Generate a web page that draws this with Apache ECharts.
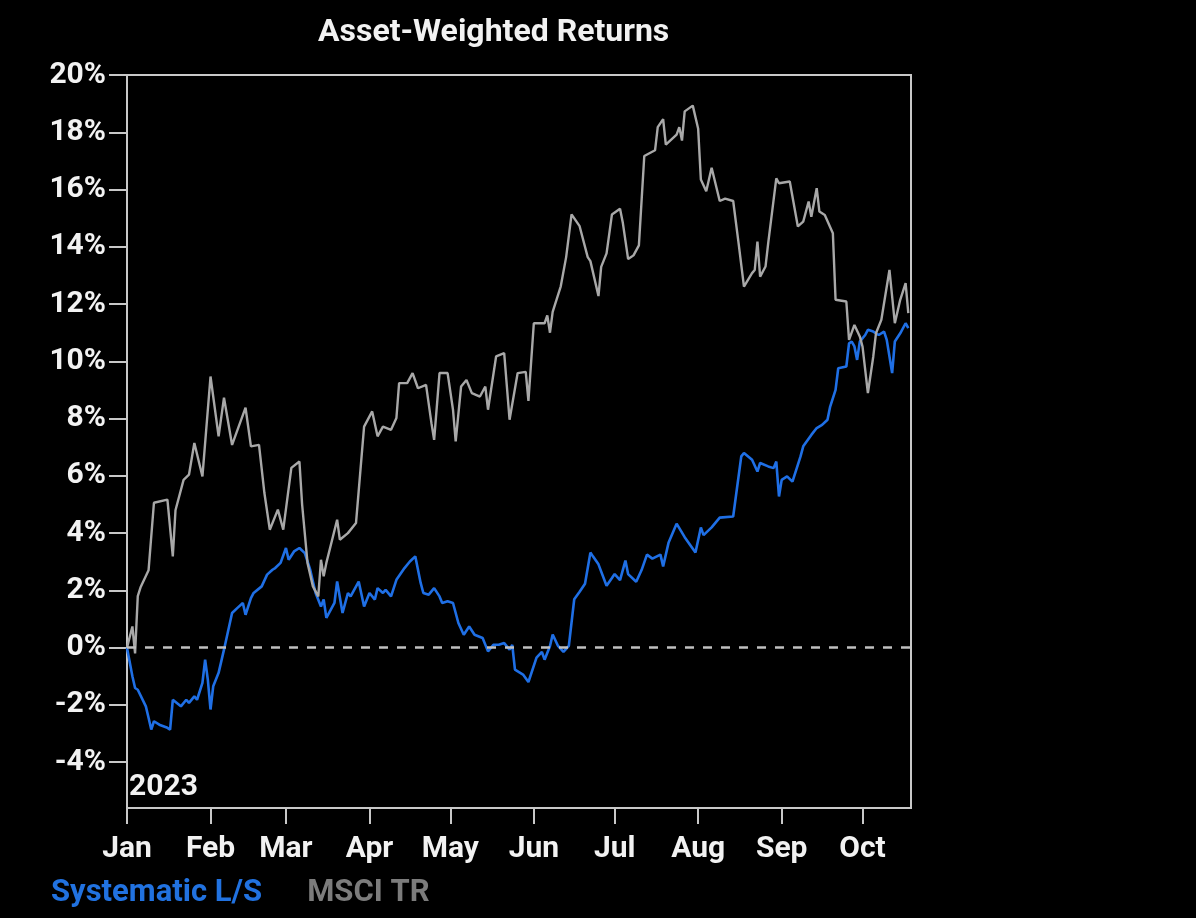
<!DOCTYPE html>
<html>
<head>
<meta charset="utf-8">
<script src="https://cdn.jsdelivr.net/npm/echarts@6/dist/echarts.min.js"></script>
<style>
  html, body { margin: 0; padding: 0; background: #000; }
  #chart { width: 1196px; height: 918px; }
</style>
</head>
<body>
<div id="chart"></div>
<script>
const titleText = 'Asset-Weighted Returns';
const yearLabel = '2023';
const seriesNames = ['Systematic L/S', 'MSCI TR'];
const monthLabels = ['Jan','Feb','Mar','Apr','May','Jun','Jul','Aug','Sep','Oct'];
const yTickValues = [-4,-2,0,2,4,6,8,10,12,14,16,18,20];

// Systematic L/S cumulative return (%)
const systematicLS = [
['2023-01-01',0],['2023-01-03',-1.0],['2023-01-04',-1.41],['2023-01-05',-1.47],['2023-01-08',-2.05],
['2023-01-09',-2.45],['2023-01-10',-2.86],['2023-01-11',-2.57],['2023-01-13',-2.69],['2023-01-16',-2.8],
['2023-01-17',-2.86],['2023-01-18',-1.82],['2023-01-21',-2.05],['2023-01-23',-1.82],['2023-01-24',-1.93],
['2023-01-26',-1.7],['2023-01-27',-1.82],['2023-01-29',-1.23],['2023-01-30',-0.42],['2023-01-31',-1.12],
['2023-02-01',-2.16],['2023-02-02',-1.35],['2023-02-04',-0.88],['2023-02-06',-0.07],['2023-02-09',1.21],
['2023-02-11',1.39],['2023-02-13',1.56],['2023-02-14',1.15],['2023-02-16',1.73],['2023-02-17',1.91],
['2023-02-20',2.14],['2023-02-22',2.55],['2023-02-24',2.72],['2023-02-25',2.78],['2023-02-27',2.96],
['2023-03-01',3.48],['2023-03-02',3.07],['2023-03-04',3.36],['2023-03-06',3.48],['2023-03-08',3.3],
['2023-03-10',2.72],['2023-03-12',1.91],['2023-03-14',1.44],['2023-03-15',1.68],['2023-03-16',1.04],
['2023-03-19',1.56],['2023-03-20',2.31],['2023-03-22',1.21],['2023-03-24',1.91],['2023-03-25',1.79],
['2023-03-28',2.31],['2023-03-30',1.44],['2023-04-01',1.91],['2023-04-03',1.68],['2023-04-04',2.08],
['2023-04-06',1.91],['2023-04-07',2.02],['2023-04-09',1.79],['2023-04-11',2.37],['2023-04-14',2.78],
['2023-04-16',3.01],['2023-04-18',3.19],['2023-04-20',2.26],['2023-04-21',1.91],['2023-04-23',1.85],
['2023-04-25',2.08],['2023-04-27',1.79],['2023-04-28',1.56],['2023-04-30',1.62],['2023-05-02',1.56],
['2023-05-04',0.86],['2023-05-06',0.45],['2023-05-08',0.74],['2023-05-10',0.45],['2023-05-13',0.34],
['2023-05-15',-0.13],['2023-05-17',0.1],['2023-05-19',0.1],['2023-05-21',0.16],['2023-05-23',-0.07],
['2023-05-24',0.1],['2023-05-25',-0.77],['2023-05-28',-0.94],['2023-05-30',-1.2],['2023-06-02',-0.35],
['2023-06-04',-0.15],['2023-06-05',-0.42],['2023-06-07',0.06],['2023-06-08',0.46],['2023-06-10',0.06],
['2023-06-12',-0.15],['2023-06-14',0.06],['2023-06-16',1.69],['2023-06-18',1.95],['2023-06-20',2.23],
['2023-06-21',2.77],['2023-06-22',3.32],['2023-06-23',3.18],['2023-06-25',2.91],['2023-06-28',2.16],
['2023-06-30',2.43],['2023-07-01',2.57],['2023-07-03',2.36],['2023-07-05',3.04],['2023-07-06',2.57],
['2023-07-09',2.3],['2023-07-11',2.71],['2023-07-13',3.25],['2023-07-15',3.11],['2023-07-18',3.25],
['2023-07-19',2.84],['2023-07-21',3.66],['2023-07-24',4.33],['2023-07-27',3.86],['2023-07-31',3.32],
['2023-08-02',4.2],['2023-08-03',3.93],['2023-08-06',4.2],['2023-08-09',4.54],['2023-08-14',4.58],
['2023-08-17',6.68],['2023-08-18',6.8],['2023-08-21',6.56],['2023-08-23',6.15],['2023-08-24',6.45],
['2023-08-27',6.33],['2023-08-29',6.27],['2023-08-30',6.5],['2023-08-31',5.28],['2023-09-01',5.86],
['2023-09-03',5.98],['2023-09-05',5.8],['2023-09-08',6.68],['2023-09-09',7.03],['2023-09-12',7.43],
['2023-09-14',7.67],['2023-09-16',7.78],['2023-09-18',7.96],['2023-09-19',8.42],['2023-09-21',9.0],
['2023-09-22',9.76],['2023-09-25',9.82],['2023-09-26',10.63],['2023-09-27',10.69],['2023-09-28',10.52],
['2023-09-29',10.05],['2023-09-30',10.69],['2023-10-02',10.92],['2023-10-03',11.1],['2023-10-05',11.04],
['2023-10-07',10.92],['2023-10-09',11.04],['2023-10-10',10.75],['2023-10-12',9.59],['2023-10-13',10.69],
['2023-10-15',10.98],['2023-10-17',11.33],['2023-10-18',11.16]
];

// MSCI TR cumulative return (%)
const msciTR = [
['2023-01-01',0.0],['2023-01-03',0.74],['2023-01-04',-0.2],['2023-01-05',1.8],['2023-01-06',2.1],
['2023-01-09',2.7],['2023-01-11',5.06],['2023-01-16',5.17],['2023-01-18',3.19],['2023-01-19',4.8],
['2023-01-22',5.86],['2023-01-24',6.04],['2023-01-26',7.15],['2023-01-29',5.98],['2023-02-01',9.47],
['2023-02-04',7.38],['2023-02-06',8.73],['2023-02-09',7.08],['2023-02-14',8.38],['2023-02-16',7.03],
['2023-02-19',7.08],['2023-02-21',5.4],['2023-02-23',4.12],['2023-02-26',4.82],['2023-02-28',4.12],
['2023-03-03',6.28],['2023-03-06',6.5],['2023-03-07',5.0],['2023-03-09',2.96],['2023-03-11',2.14],
['2023-03-13',1.79],['2023-03-14',3.07],['2023-03-15',2.49],['2023-03-16',2.96],['2023-03-20',4.47],
['2023-03-21',3.77],['2023-03-24',4.0],['2023-03-27',4.35],['2023-03-30',7.72],['2023-04-02',8.25],
['2023-04-04',7.38],['2023-04-06',7.72],['2023-04-09',7.61],['2023-04-11',8.02],['2023-04-12',9.24],
['2023-04-15',9.24],['2023-04-17',9.59],['2023-04-19',9.06],['2023-04-22',9.18],['2023-04-24',7.84],
['2023-04-25',7.26],['2023-04-27',9.59],['2023-04-30',9.59],['2023-05-02',8.31],['2023-05-03',7.2],
['2023-05-05',9.12],['2023-05-07',9.35],['2023-05-09',8.89],['2023-05-12',8.77],['2023-05-14',9.12],
['2023-05-15',8.31],['2023-05-18',10.17],['2023-05-21',10.29],['2023-05-23',7.96],['2023-05-26',9.59],
['2023-05-29',9.63],['2023-05-30',8.62],['2023-06-01',11.33],['2023-06-05',11.33],['2023-06-06',11.6],
['2023-06-07',11.0],['2023-06-08',11.73],['2023-06-11',12.62],['2023-06-13',13.64],['2023-06-15',15.13],
['2023-06-18',14.72],['2023-06-21',13.64],['2023-06-22',13.5],['2023-06-25',12.28],['2023-06-26',13.3],
['2023-06-28',13.77],['2023-06-30',15.13],['2023-07-03',15.33],['2023-07-04',14.86],['2023-07-06',13.57],
['2023-07-08',13.7],['2023-07-10',14.05],['2023-07-12',17.17],['2023-07-16',17.37],['2023-07-17',18.18],
['2023-07-19',18.46],['2023-07-20',17.57],['2023-07-24',17.92],['2023-07-25',18.18],['2023-07-26',17.71],
['2023-07-27',18.73],['2023-07-30',18.93],['2023-08-01',18.12],['2023-08-02',16.35],['2023-08-04',15.94],
['2023-08-06',16.76],['2023-08-09',15.6],['2023-08-11',15.68],['2023-08-14',15.6],['2023-08-16',14.13],
['2023-08-18',12.61],['2023-08-21',13.08],['2023-08-22',13.19],['2023-08-23',14.18],['2023-08-24',12.96],
['2023-08-26',13.31],['2023-08-27',14.13],['2023-08-30',16.39],['2023-08-31',16.22],['2023-09-04',16.28],
['2023-09-07',14.71],['2023-09-09',14.88],['2023-09-11',15.58],['2023-09-12',15.05],['2023-09-14',16.05],
['2023-09-15',15.23],['2023-09-17',15.11],['2023-09-20',14.47],['2023-09-21',12.15],['2023-09-25',12.09],
['2023-09-26',10.75],['2023-09-28',11.27],['2023-09-30',10.87],['2023-10-01',10.52],['2023-10-03',8.89],
['2023-10-05',10.17],['2023-10-06',10.98],['2023-10-08',11.45],['2023-10-11',13.19],['2023-10-13',11.33],
['2023-10-15',12.15],['2023-10-17',12.73],['2023-10-18',11.68]
];

const xStart = '2023-01-01';
const xEnd = '2023-10-19';

function ts(s) { const p = s.split('-').map(Number); return new Date(p[0], p[1] - 1, p[2]).getTime(); }
const monthTicks = monthLabels.map((m, i) => new Date(2023, i, 1).getTime());
const toPoints = arr => arr.map(([d, v]) => [ts(d), v]);

const FONT = 'Roboto';
const chart = echarts.init(document.getElementById('chart'), null, { renderer: 'canvas' });

chart.setOption({
  backgroundColor: '#000000',
  animation: false,
  textStyle: { fontFamily: FONT },
  title: {
    text: titleText,
    left: 313, top: 12,
    textStyle: { color: '#f2f2f2', fontSize: 32, fontWeight: 'bold', fontFamily: FONT }
  },
  legend: {
    left: 41, top: 873,
    itemWidth: 0, itemHeight: 0, itemGap: 40,
    icon: 'rect',
    data: [
      { name: seriesNames[0], textStyle: { color: '#2172e0' } },
      { name: seriesNames[1], textStyle: { color: '#7c7c7c' } }
    ],
    textStyle: { fontSize: 31, fontWeight: 'bold', fontFamily: FONT }
  },
  grid: {
    left: 127, top: 75, right: 285, bottom: 110,
    show: true, borderColor: '#c8c8c8', borderWidth: 2, backgroundColor: 'transparent'
  },
  graphic: [{
    type: 'text', left: 129, top: 772,
    style: { text: yearLabel, fill: '#f2f2f2', font: 'bold 30px ' + FONT }
  }],
  xAxis: {
    type: 'value',
    min: ts(xStart), max: ts(xEnd),
    axisLine: { show: true, onZero: false, lineStyle: { color: '#c8c8c8', width: 2 } },
    axisTick: { show: true, length: 16, customValues: monthTicks, lineStyle: { color: '#c8c8c8', width: 2 } },
    axisLabel: {
      customValues: monthTicks,
      formatter: v => monthLabels[new Date(v).getMonth()],
      color: '#f2f2f2', fontSize: 30, fontWeight: 'bold', fontFamily: FONT, margin: 26,
      hideOverlap: false
    },
    splitLine: { show: false }
  },
  yAxis: {
    type: 'value', min: -5.6, max: 20,
    axisLine: { show: true, onZero: false, lineStyle: { color: '#c8c8c8', width: 2 } },
    axisTick: { show: true, length: 18, customValues: yTickValues, lineStyle: { color: '#c8c8c8', width: 2 } },
    axisLabel: {
      customValues: yTickValues,
      formatter: v => v + '%',
      color: '#f2f2f2', fontSize: 30, fontWeight: 'bold', fontFamily: FONT, margin: 21
    },
    splitLine: { show: false }
  },
  series: [
    {
      name: seriesNames[0], type: 'line',
      data: toPoints(systematicLS),
      showSymbol: false, symbol: 'none',
      lineStyle: { color: '#1f6fe5', width: 2.6 },
      itemStyle: { color: '#1f6fe5' },
      markLine: {
        silent: true, symbol: 'none', label: { show: false },
        lineStyle: { color: '#c0c0c0', width: 2.5, type: [9, 9] },
        data: [{ yAxis: 0 }]
      },
      z: 2
    },
    {
      name: seriesNames[1], type: 'line',
      data: toPoints(msciTR),
      showSymbol: false, symbol: 'none',
      lineStyle: { color: '#a8a8a8', width: 2.4 },
      itemStyle: { color: '#a8a8a8' },
      z: 3
    }
  ]
});
</script>
</body>
</html>
